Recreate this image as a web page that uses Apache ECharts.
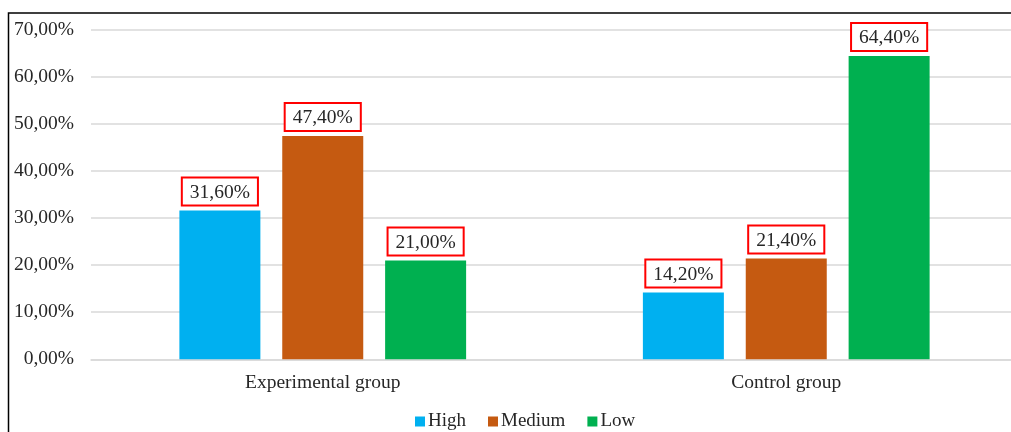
<!DOCTYPE html>
<html>
<head>
<meta charset="utf-8">
<script src="https://cdn.jsdelivr.net/npm/echarts@6/dist/echarts.min.js"></script>
<style>
  html, body { margin: 0; padding: 0; background: #fff; }
  #chart { width: 1011px; height: 432px; }
</style>
</head>
<body>
<div id="chart"></div>
<script>
const categories = ['Experimental group', 'Control group']
const seriesNames = ['High', 'Medium', 'Low']
const highValues = [31.6, 14.2]
const mediumValues = [47.4, 21.4]
const lowValues = [21.0, 64.4]
const colors = ['#00B0F0', '#C55A11', '#00B050']

const fmt = v => v.toFixed(2).replace('.', ',') + '%'
const font = 'Liberation Serif'
const fs = 19.5

const chart = echarts.init(document.getElementById('chart'))

const makeSeries = (name, values, color) => ({
  name: name,
  type: 'bar',
  data: values,
  barWidth: 81,
  barGap: '27%',
  itemStyle: { color: color },
  label: {
    show: true,
    position: 'top',
    distance: 6,
    formatter: p => fmt(p.value),
    fontFamily: font,
    fontSize: fs,
    color: '#262626',
    backgroundColor: '#fff',
    borderColor: '#ff0000',
    borderWidth: 2,
    padding: [4, 7, 2, 7]
  }
})

chart.setOption({
  animation: false,
  grid: { left: 91, top: 29.6, width: 927, bottom: 72.7, outerBoundsMode: 'none' },
  graphic: [{
    type: 'rect',
    shape: { x: 8.5, y: 13, width: 1100, height: 500 },
    style: { fill: 'none', stroke: '#000', lineWidth: 1.5 },
    silent: true
  }],
  legend: {
    data: seriesNames,
    top: 412,
    left: 415,
    padding: 0,
    itemWidth: 10,
    itemHeight: 10,
    itemGap: 22,
    icon: 'rect',
    textStyle: { fontFamily: font, fontSize: 19, color: '#262626', padding: [0, 0, 0, -2] }
  },
  xAxis: {
    type: 'category',
    data: categories,
    axisLine: { lineStyle: { color: '#d9d9d9', width: 1.5 } },
    axisTick: { show: false },
    axisLabel: { fontFamily: font, fontSize: fs, color: '#262626', margin: 14 }
  },
  yAxis: {
    type: 'value',
    min: 0,
    max: 70,
    interval: 10,
    axisLine: { show: false },
    axisTick: { show: false },
    splitLine: { lineStyle: { color: '#d9d9d9', width: 1.5 } },
    axisLabel: { formatter: fmt, fontFamily: font, fontSize: fs, color: '#262626', margin: 17 }
  },
  series: [
    makeSeries(seriesNames[0], highValues, colors[0]),
    makeSeries(seriesNames[1], mediumValues, colors[1]),
    makeSeries(seriesNames[2], lowValues, colors[2])
  ]
})
</script>
</body>
</html>
